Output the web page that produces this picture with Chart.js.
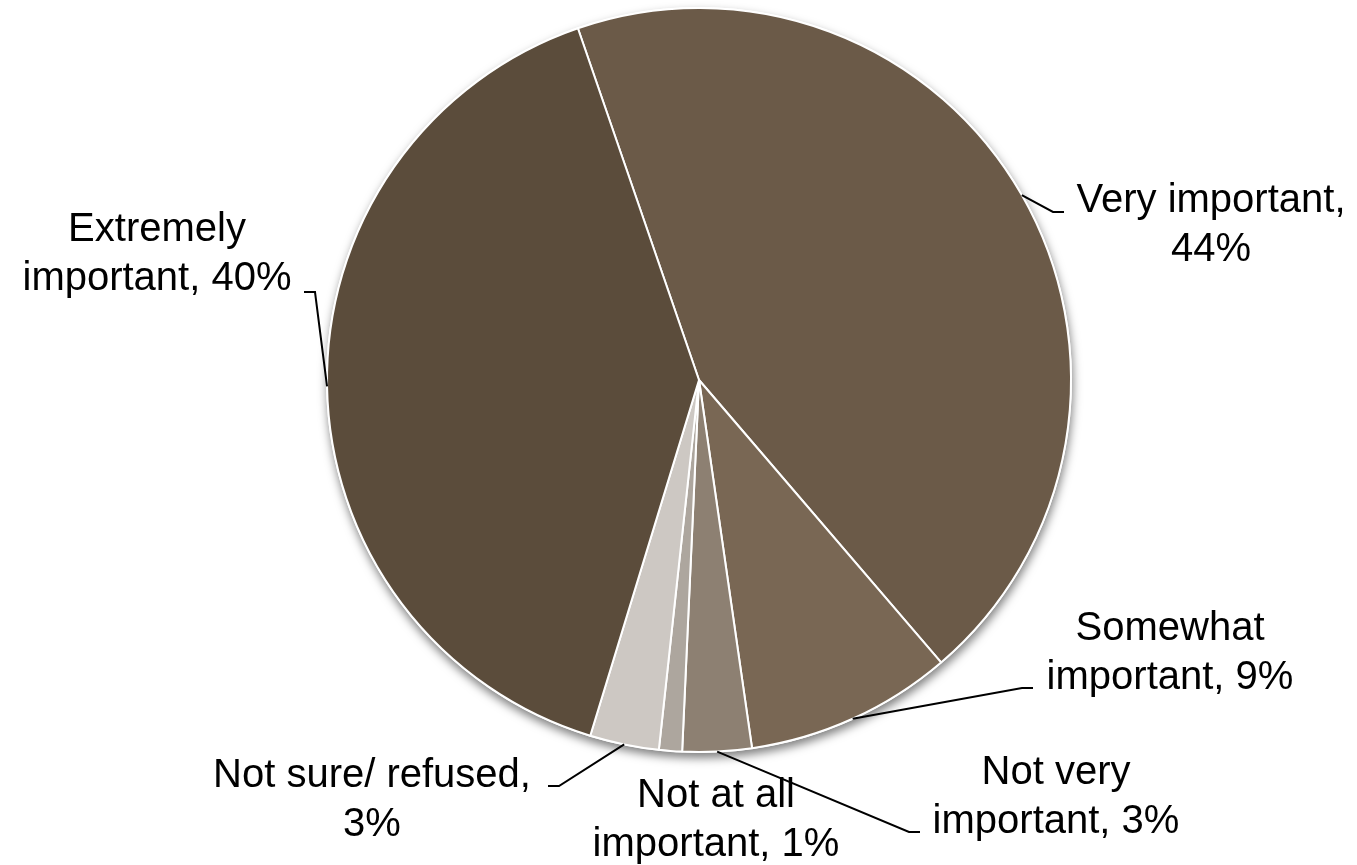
<!DOCTYPE html>
<html><head><meta charset="utf-8">
<script src="https://cdn.jsdelivr.net/npm/chart.js@4.4.1/dist/chart.umd.min.js"></script>
<style>html,body{margin:0;padding:0;background:#fff;overflow:hidden}#wrap{position:relative;width:1357px;height:865px}</style>
</head><body><div id="wrap"><canvas id="c"></canvas></div>
<script>
// ---- data ----
const categories = ["Very important", "Somewhat important", "Not very important", "Not at all important", "Not sure/ refused", "Extremely important"];
const values = [44, 9, 3, 1, 3, 40];
const sliceColors = ["#6B5A48", "#796754", "#8D8072", "#ADA69E", "#CDC8C3", "#5B4C3B"];
// number of words on the first line of each wrapped label
const firstLineWords = [2, 1, 2, 3, 3, 1];

// ---- layout (label anchor positions, leader ticks) ----
const labelLayout = [
  {cx: 1211, y: 212, tick: [1064, 212], dir: -1},
  {cx: 1170, y: 640, tick: [1033, 688], dir: -1},
  {cx: 1056, y: 784, tick: [920, 832], dir: -1},
  {cx: 716,  y: 807, tick: null},
  {cx: 372,  y: 787, tick: [548, 786], dir: 1},
  {cx: 157,  y: 241, tick: [304, 292], dir: 1}
];
const FONT = '40px "Liberation Sans", Arial, sans-serif';
const LINE_H = 49;

const pieDecor = {
  id: 'pieDecor',
  beforeDatasetsDraw(chart) {
    const ctx = chart.ctx;
    const a = chart.getDatasetMeta(0).data[0];
    const p = a.getProps(['x', 'y', 'outerRadius'], true);
    ctx.save();
    ctx.shadowColor = 'rgba(0,0,0,0.5)';
    ctx.shadowBlur = 10;
    ctx.shadowOffsetX = 1;
    ctx.shadowOffsetY = 5;
    ctx.beginPath();
    ctx.arc(p.x, p.y, p.outerRadius + 1, 0, Math.PI * 2);
    ctx.fillStyle = '#ffffff';
    ctx.fill();
    ctx.restore();
  },
  afterDatasetsDraw(chart) {
    const ctx = chart.ctx;
    const meta = chart.getDatasetMeta(0);
    ctx.save();
    ctx.font = FONT;
    ctx.fillStyle = '#000';
    ctx.textAlign = 'center';
    ctx.textBaseline = 'alphabetic';
    meta.data.forEach((arc, i) => {
      const p = arc.getProps(['x', 'y', 'startAngle', 'endAngle', 'outerRadius'], true);
      const L = labelLayout[i];
      const words = (categories[i] + ', ' + values[i] + '%').split(' ');
      const lines = [words.slice(0, firstLineWords[i]).join(' '), words.slice(firstLineWords[i]).join(' ')];
      lines.forEach((t, k) => ctx.fillText(t, L.cx, L.y + k * LINE_H));
      if (L.tick) {
        const mid = (p.startAngle + p.endAngle) / 2;
        const sx = p.x + Math.cos(mid) * p.outerRadius;
        const sy = p.y + Math.sin(mid) * p.outerRadius;
        ctx.beginPath();
        ctx.moveTo(sx, sy);
        ctx.lineTo(L.tick[0] + L.dir * 11, L.tick[1]);
        ctx.lineTo(L.tick[0], L.tick[1]);
        ctx.strokeStyle = '#000';
        ctx.lineWidth = 2;
        ctx.stroke();
      }
    });
    ctx.restore();
  }
};

new Chart(document.getElementById('c'), {
  type: 'pie',
  data: {
    labels: categories,
    datasets: [{
      data: values,
      backgroundColor: sliceColors,
      borderColor: '#ffffff',
      borderWidth: 2
    }]
  },
  options: {
    responsive: true,
    maintainAspectRatio: false,
    animation: false,
    rotation: -19,
    layout: {padding: {left: 326, right: 285, top: 7, bottom: 112}},
    plugins: {legend: {display: false}, tooltip: {enabled: false}}
  },
  plugins: [pieDecor]
});
</script></body></html>
